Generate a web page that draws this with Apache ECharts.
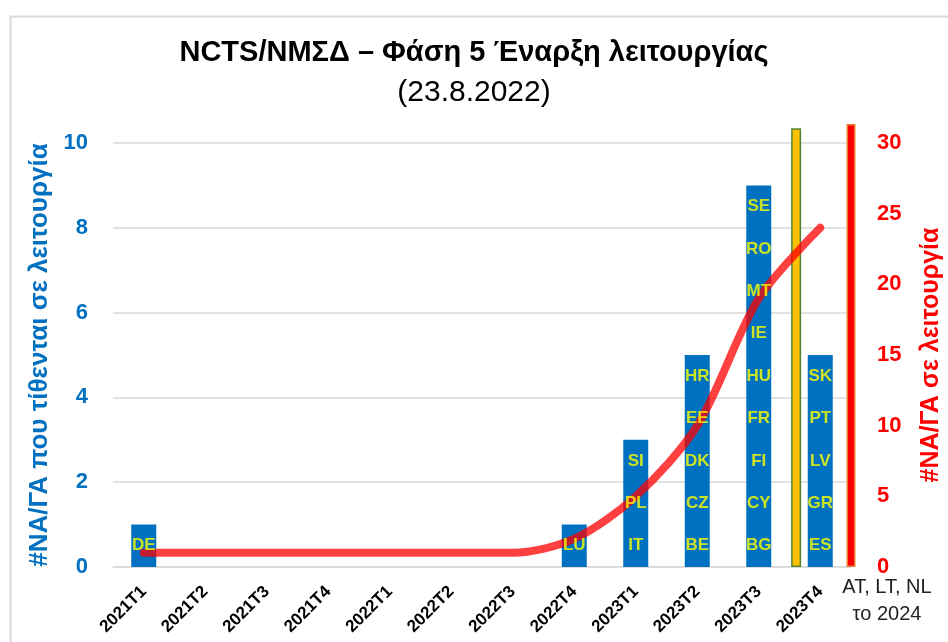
<!DOCTYPE html>
<html>
<head>
<meta charset="utf-8">
<script src="https://cdn.jsdelivr.net/npm/echarts@6/dist/echarts.min.js"></script>
<style>html,body{margin:0;padding:0;background:#fff}#c{width:948px;height:642px}</style>
</head>
<body>
<div id="c"></div>
<script>
const categories = ['2021T1','2021T2','2021T3','2021T4','2022T1','2022T2','2022T3','2022T4','2023T1','2023T2','2023T3','2023T4'];
const barValues = [1,0,0,0,0,0,0,1,3,5,9,5];
const lineValues = [1,1,1,1,1,1,1,2,5,10,19,24];
const countryCodes = [
  ['DE'],[],[],[],[],[],[],['LU'],
  ['IT','PL','SI'],
  ['BE','CZ','DK','EE','HR'],
  ['BG','CY','FI','FR','HU','IE','MT','RO','SE'],
  ['ES','GR','LV','PT','SK']
];
const leftTicks = {min:0, max:10, interval:2};
const rightTicks = {min:0, max:30, interval:5};
const yellowMarker = [[10.6, 10.35]];   // [category position, height on left axis]
const redMarker = [[11.5, 10.45]];
const lastNote = ['AT, LT, NL', 'το 2024'];

const FONT = "'Liberation Sans', Arial, sans-serif";
const labelPoints = [];
countryCodes.forEach((list, i) => list.forEach((code, k) => labelPoints.push([i, k + 0.5, code])));

const chart = echarts.init(document.getElementById('c'), null, {renderer:'canvas'});
chart.setOption({
  animation:false,
  backgroundColor:'#fff',
  textStyle:{fontFamily:FONT},
  title:[
    {text:'NCTS/ΝΜΣΔ – Φάση 5 Έναρξη λειτουργίας', left:'center', top:33,
     textStyle:{fontFamily:FONT, fontSize:29, fontWeight:'bold', color:'#000'}},
    {text:'(23.8.2022)', left:'center', top:73,
     textStyle:{fontFamily:FONT, fontSize:30, fontWeight:'normal', color:'#000'}}
  ],
  graphic:[
    {type:'rect', left:8, top:14, shape:{width:1200, height:1200}, style:{fill:'none', stroke:'#D9D9D9', lineWidth:2}, silent:true, z:-10},
    {type:'text', x:887, y:587, style:{text:lastNote[0], fill:'#222', font:"20px " + FONT, textAlign:'center', textVerticalAlign:'middle'}},
    {type:'text', x:887, y:614, style:{text:lastNote[1], fill:'#222', font:"20px " + FONT, textAlign:'center', textVerticalAlign:'middle'}}
  ],
  grid:{left:113, right:97, top:143, bottom:75, containLabel:false, outerBoundsMode:'none'},
  xAxis:[
    {type:'category', data:categories, boundaryGap:true,
     axisLine:{lineStyle:{color:'#D9D9D9', width:1.5}}, axisTick:{show:false},
     axisLabel:{rotate:45, interval:0, margin:22, color:'#000', fontWeight:'bold', fontSize:17, fontFamily:FONT}},
    {type:'value', min:-0.5, max:11.5, show:false}
  ],
  yAxis:[
    {type:'value', min:leftTicks.min, max:leftTicks.max, interval:leftTicks.interval,
     name:'#ΝΑ/ΓΑ που τίθενται σε λειτουργία', nameLocation:'middle', nameGap:60, nameRotate:90,
     nameTextStyle:{color:'#0070C0', fontWeight:'bold', fontSize:26, fontFamily:FONT},
     axisLine:{show:false}, axisTick:{show:false},
     axisLabel:{color:'#0070C0', fontWeight:'bold', fontSize:22, margin:25, fontFamily:FONT},
     splitLine:{lineStyle:{color:'#D9D9D9', width:1.5}}},
    {type:'value', min:rightTicks.min, max:rightTicks.max, interval:rightTicks.interval, position:'right',
     name:'#ΝΑ/ΓΑ σε λειτουργία', nameLocation:'middle', nameGap:68, nameRotate:90,
     nameTextStyle:{color:'#FF0000', fontWeight:'bold', fontSize:25, fontFamily:FONT},
     axisLine:{show:false}, axisTick:{show:false},
     axisLabel:{color:'#FF0000', fontWeight:'bold', fontSize:22, margin:26, align:'left', fontFamily:FONT},
     splitLine:{show:false}}
  ],
  series:[
    {type:'bar', name:'count', data:barValues, xAxisIndex:0, yAxisIndex:0, barWidth:25,
     itemStyle:{color:'#0070C0'}, z:2},
    {type:'bar', name:'yellow', data:yellowMarker, xAxisIndex:1, yAxisIndex:0, barWidth:10, clip:false,
     itemStyle:{color:'#FFC000', borderColor:'#548235', borderWidth:1.5}, z:2},
    {type:'bar', name:'red', data:redMarker, xAxisIndex:1, yAxisIndex:0, barWidth:9, barGap:'-100%', clip:false,
     itemStyle:{color:'#FF0000', borderColor:'#ED7D31', borderWidth:1.5}, z:2},
    {type:'line', name:'cum', data:lineValues, xAxisIndex:0, yAxisIndex:1, smooth:0.3, symbol:'none',
     lineStyle:{color:'rgba(255,0,0,0.75)', width:8, cap:'round', join:'round'}, z:4},
    {type:'scatter', name:'codes', data:labelPoints, xAxisIndex:0, yAxisIndex:0, symbolSize:0,
     label:{show:true, position:'inside', formatter:p => p.data[2], color:'#FFFF00', fontWeight:'bold', fontSize:17, fontFamily:FONT},
     z:8, zlevel:0}
  ]
});
</script>
</body>
</html>
